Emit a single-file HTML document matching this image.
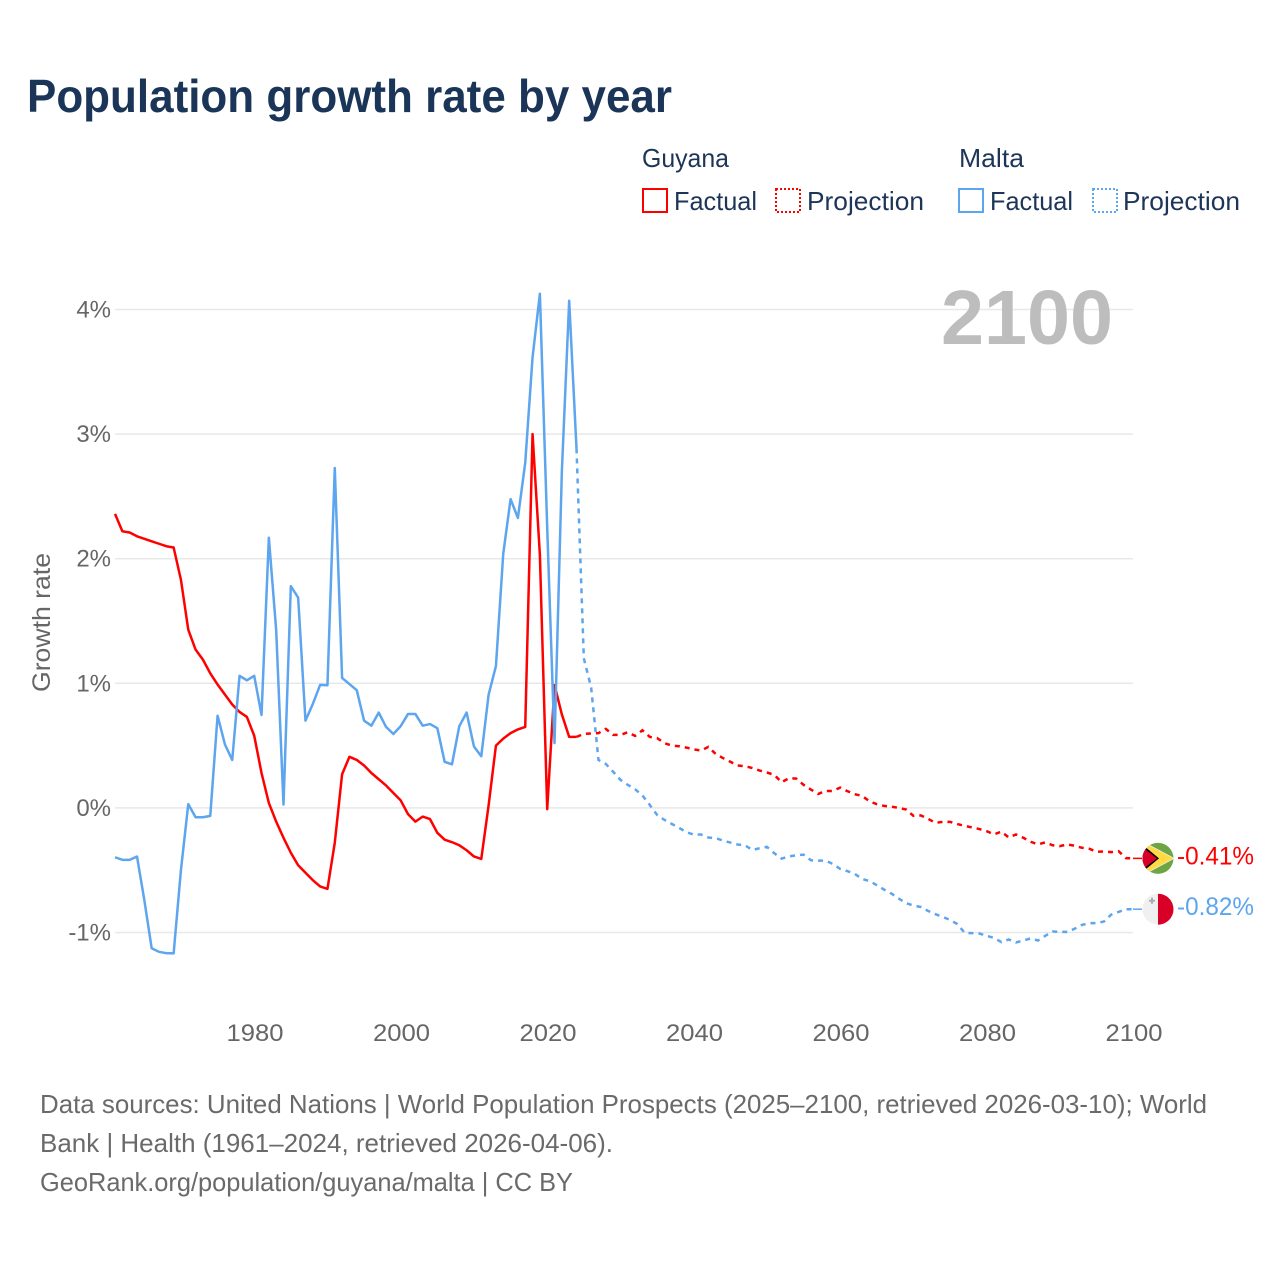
<!DOCTYPE html>
<html lang="en">
<head>
<meta charset="utf-8">
<title>Population growth rate by year</title>
<style>
html,body{margin:0;padding:0;background:#fff;}
svg{display:block;}
text{font-family:"Liberation Sans",Arial,sans-serif;}
</style>
</head>
<body>
<svg id="chart" xmlns="http://www.w3.org/2000/svg" width="1280" height="1280" viewBox="0 0 1280 1280">
  <defs>
    <clipPath id="flag-clip"><circle cx="0" cy="0" r="15.5"/></clipPath>
  </defs>
  <rect x="0" y="0" width="1280" height="1280" fill="#ffffff"/>
  <text x="27" y="112" font-size="46" font-weight="700" fill="#1a3557" textLength="645" lengthAdjust="spacingAndGlyphs">Population growth rate by year</text>

  <g font-size="26" fill="#1d3557">
    <text x="642" y="167" textLength="87" lengthAdjust="spacingAndGlyphs">Guyana</text>
    <text x="959" y="167" textLength="65" lengthAdjust="spacingAndGlyphs">Malta</text>
    <rect x="643" y="189" width="24" height="23" fill="none" stroke="#ff0000" stroke-width="2"/>
    <text x="674" y="210" textLength="83" lengthAdjust="spacingAndGlyphs">Factual</text>
    <rect x="776" y="189" width="24" height="23" fill="none" stroke="#ff0000" stroke-width="2" stroke-dasharray="2 2"/>
    <text x="807" y="210" textLength="117" lengthAdjust="spacingAndGlyphs">Projection</text>
    <rect x="959" y="189" width="24" height="23" fill="none" stroke="#5da5ee" stroke-width="2"/>
    <text x="990" y="210" textLength="83" lengthAdjust="spacingAndGlyphs">Factual</text>
    <rect x="1093" y="189" width="24" height="23" fill="none" stroke="#5da5ee" stroke-width="2" stroke-dasharray="2 2"/>
    <text x="1123" y="210" textLength="117" lengthAdjust="spacingAndGlyphs">Projection</text>
  </g>

  <g id="grid-layer"></g>
  <text x="941" y="344" font-size="77" font-weight="700" fill="#bdbdbd" textLength="172" lengthAdjust="spacingAndGlyphs">2100</text>
  <g id="y-tick-layer"></g>
  <g id="x-tick-layer"></g>
  <text transform="translate(50,622.5) rotate(-90)" text-anchor="middle" font-size="25" fill="#666666" textLength="139" lengthAdjust="spacingAndGlyphs">Growth rate</text>

  <g id="series-layer"></g>

  <g id="flag-guyana">
    <g clip-path="url(#flag-clip)">
      <rect x="-16" y="-16" width="32" height="32" fill="#6da544"/>
      <polygon points="-15,-17 17,0 -15,17" fill="#f0f0f0"/>
      <polygon points="-13,-15 15.5,0 -13,15" fill="#ffda44"/>
      <polygon points="-16,-14 1,0 -16,14" fill="#000000"/>
      <polygon points="-18,-13 -1,0 -18,13" fill="#d80027"/>
    </g>
  </g>
  <g id="flag-malta">
    <g clip-path="url(#flag-clip)">
      <rect x="-16" y="-16" width="16" height="32" fill="#f0f0f0"/>
      <rect x="0" y="-16" width="16" height="32" fill="#d80027"/>
      <path d="M-7,-11.5h2v2h2v2h-2v2h-2v-2h-2v-2h2z" fill="#acabb1"/>
    </g>
  </g>
  <text id="end-label-guyana" x="1177" font-size="25" fill="#ff0000" textLength="77" lengthAdjust="spacingAndGlyphs"></text>
  <text id="end-label-malta" x="1177" font-size="25" fill="#5da5ee" textLength="77" lengthAdjust="spacingAndGlyphs"></text>

  <g font-size="26" fill="#6a6a6a">
    <text x="40" y="1113" textLength="1167" lengthAdjust="spacingAndGlyphs">Data sources: United Nations | World Population Prospects (2025–2100, retrieved 2026-03-10); World</text>
    <text x="40" y="1152" textLength="573" lengthAdjust="spacingAndGlyphs">Bank | Health (1961–2024, retrieved 2026-04-06).</text>
    <text x="40" y="1191" textLength="533" lengthAdjust="spacingAndGlyphs">GeoRank.org/population/guyana/malta | CC BY</text>
  </g>
</svg>
<script>
var factualStartYear = 1961;
var projectionStartYear = 2024;
var yTickValues = [4, 3, 2, 1, 0, -1];
var yTickLabels = ["4%", "3%", "2%", "1%", "0%", "-1%"];
var xTickValues = [1980, 2000, 2020, 2040, 2060, 2080, 2100];
var xTickLabels = ["1980", "2000", "2020", "2040", "2060", "2080", "2100"];
var endLabelGuyana = "-0.41%";
var endLabelMalta = "-0.82%";

var guyanaFactual = [2.36,2.22,2.21,2.18,2.16,2.14,2.12,2.10,2.09,1.83,1.43,1.27,1.19,1.08,0.99,0.91,0.83,0.77,0.73,0.58,0.28,0.04,-0.11,-0.24,-0.36,-0.46,-0.52,-0.58,-0.63,-0.65,-0.28,0.27,0.41,0.385,0.34,0.28,0.23,0.18,0.12,0.06,-0.05,-0.11,-0.07,-0.09,-0.20,-0.255,-0.275,-0.30,-0.34,-0.39,-0.41,0.02,0.50,0.556,0.60,0.63,0.65,3.0,2.03,-0.01,0.985,0.75,0.57,0.57];
var maltaFactual = [-0.396,-0.417,-0.417,-0.39,-0.74,-1.126,-1.155,-1.166,-1.168,-0.497,0.03,-0.075,-0.075,-0.064,0.74,0.51,0.385,1.06,1.024,1.06,0.746,2.168,1.428,0.027,1.78,1.687,0.70,0.834,0.987,0.984,2.728,1.043,0.994,0.945,0.70,0.66,0.765,0.65,0.593,0.656,0.754,0.754,0.66,0.673,0.64,0.37,0.35,0.656,0.765,0.493,0.415,0.908,1.138,2.04,2.478,2.327,2.77,3.616,4.126,2.25,0.52,2.7,4.07,2.885];
var guyanaProjection = [0.57,0.594,0.597,0.60,0.634,0.586,0.586,0.607,0.578,0.623,0.57,0.56,0.52,0.50,0.495,0.484,0.47,0.46,0.49,0.433,0.40,0.37,0.34,0.335,0.32,0.30,0.284,0.265,0.206,0.238,0.235,0.185,0.147,0.112,0.136,0.136,0.163,0.134,0.11,0.096,0.053,0.03,0.016,0.01,0,-0.013,-0.064,-0.06,-0.088,-0.12,-0.112,-0.112,-0.13,-0.144,-0.157,-0.17,-0.187,-0.213,-0.19,-0.237,-0.213,-0.24,-0.272,-0.293,-0.277,-0.30,-0.307,-0.293,-0.304,-0.32,-0.328,-0.352,-0.35,-0.355,-0.347,-0.403,-0.405];
var maltaProjection = [2.885,1.2,0.966,0.385,0.353,0.29,0.225,0.185,0.15,0.10,0.024,-0.056,-0.096,-0.128,-0.16,-0.195,-0.214,-0.214,-0.238,-0.243,-0.262,-0.278,-0.294,-0.30,-0.337,-0.324,-0.313,-0.364,-0.407,-0.39,-0.38,-0.375,-0.42,-0.423,-0.423,-0.45,-0.49,-0.508,-0.53,-0.57,-0.587,-0.62,-0.656,-0.688,-0.728,-0.765,-0.784,-0.795,-0.827,-0.853,-0.875,-0.899,-0.933,-1.003,-1.005,-1.008,-1.027,-1.043,-1.077,-1.056,-1.08,-1.064,-1.048,-1.064,-1.027,-0.992,-0.995,-0.995,-0.97,-0.939,-0.925,-0.925,-0.912,-0.856,-0.835,-0.813,-0.813];

var NS = "http://www.w3.org/2000/svg";
function xScale(year) { return 1133.2 - (2100 - year) * 7.325; }
function yScale(value) { return 807.9 - value * 124.6; }
function makeEl(tag, attrs, parent) {
  var el = document.createElementNS(NS, tag);
  for (var k in attrs) { el.setAttribute(k, attrs[k]); }
  parent.appendChild(el);
  return el;
}
function pathFor(values, startYear) {
  return values.map(function (v, i) {
    return (i ? "L" : "M") + xScale(startYear + i).toFixed(2) + "," + yScale(v).toFixed(2);
  }).join(" ");
}

var gridLayer = document.getElementById("grid-layer");
var yTickLayer = document.getElementById("y-tick-layer");
var xTickLayer = document.getElementById("x-tick-layer");
var seriesLayer = document.getElementById("series-layer");

yTickValues.forEach(function (v, i) {
  var line = makeEl("line", { x1: 115, x2: 1133, y1: yScale(v), y2: yScale(v), stroke: "#e8e8e8", "stroke-width": 1.5 }, gridLayer);
  
  
  var label = makeEl("text", { x: 111, y: yScale(v) + 8, "text-anchor": "end", "font-size": 24, fill: "#666666" }, yTickLayer);
  
  
  label.textContent = yTickLabels[i];
});

xTickValues.forEach(function (v, i) {
  var label = makeEl("text", { x: xScale(v) + 0.8, y: 1041, "text-anchor": "middle", "font-size": 24, fill: "#666666", textLength: 57, lengthAdjust: "spacingAndGlyphs" }, xTickLayer);
  
  
  label.textContent = xTickLabels[i];
});

var guyanaFactualLine = makeEl("path", { d: pathFor(guyanaFactual, factualStartYear), fill: "none", stroke: "#ff0000", "stroke-width": 2.5, "stroke-linejoin": "round" }, seriesLayer);



var guyanaProjectionLine = makeEl("path", { d: pathFor(guyanaProjection, projectionStartYear), fill: "none", stroke: "#ff0000", "stroke-width": 2.5, "stroke-dasharray": "5 5" }, seriesLayer);



var maltaFactualLine = makeEl("path", { d: pathFor(maltaFactual, factualStartYear), fill: "none", stroke: "#5da5ee", "stroke-width": 2.5, "stroke-linejoin": "round" }, seriesLayer);



var maltaProjectionLine = makeEl("path", { d: pathFor(maltaProjection, projectionStartYear), fill: "none", stroke: "#5da5ee", "stroke-width": 2.5, "stroke-dasharray": "5 5" }, seriesLayer);



var guyanaEndY = yScale(guyanaProjection[guyanaProjection.length - 1]);
var maltaEndY = yScale(maltaProjection[maltaProjection.length - 1]);

var guyanaConnector = makeEl("line", { x1: 1133, x2: 1142, y1: guyanaEndY, y2: guyanaEndY, stroke: "#ff0000", "stroke-width": 1.5 }, seriesLayer);



var maltaConnector = makeEl("line", { x1: 1133, x2: 1142, y1: maltaEndY, y2: maltaEndY, stroke: "#5da5ee", "stroke-width": 1.5 }, seriesLayer);



document.getElementById("flag-guyana").setAttribute("transform", "translate(1158," + guyanaEndY + ")");
document.getElementById("flag-malta").setAttribute("transform", "translate(1158," + maltaEndY + ")");

var endGuyana = document.getElementById("end-label-guyana");
endGuyana.setAttribute("y", guyanaEndY + 6);
endGuyana.textContent = endLabelGuyana;
var endMalta = document.getElementById("end-label-malta");
endMalta.setAttribute("y", maltaEndY + 6);
endMalta.textContent = endLabelMalta;
</script>
</body>
</html>
